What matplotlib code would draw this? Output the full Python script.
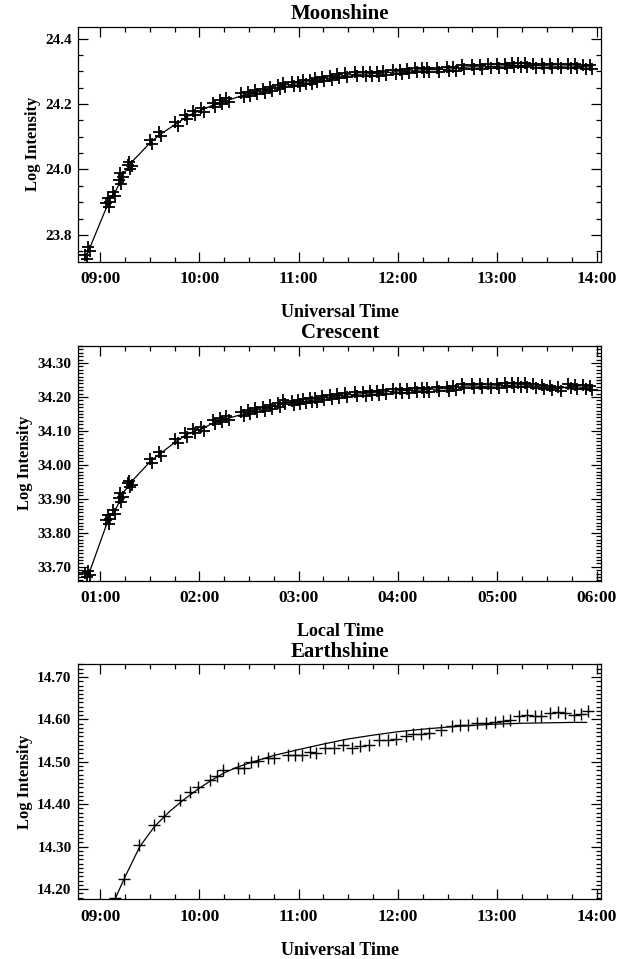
import matplotlib
matplotlib.use("Agg")
import matplotlib.pyplot as plt
import matplotlib.transforms as mtransforms
from matplotlib.ticker import MultipleLocator, FuncFormatter, FormatStrFormatter

plt.rcParams['font.family'] = ['Liberation Serif', 'DejaVu Serif']
plt.rcParams['font.weight'] = 'bold'

# observation times (decimal hours, UT) shared by Moonshine and Crescent
obs_time = [8.857, 8.891, 9.076, 9.09, 9.143, 9.203, 9.215, 9.294, 9.305, 9.512,
            9.606, 9.770, 9.864, 9.949, 10.032, 10.15, 10.216, 10.284, 10.435, 10.502,
            10.569, 10.653, 10.72, 10.805, 10.855, 10.942, 11.002, 11.059, 11.127, 11.177,
            11.244, 11.328, 11.395, 11.479, 11.58, 11.664, 11.731, 11.798, 11.865, 11.966,
            12.033, 12.1, 12.184, 12.251, 12.301, 12.402, 12.503, 12.57, 12.654, 12.754,
            12.839, 12.923, 13.006, 13.09, 13.157, 13.225, 13.292, 13.376, 13.459, 13.543,
            13.627, 13.728, 13.795, 13.879, 13.946]

moon_val = [23.733, 23.756, 23.892, 23.908, 23.925, 23.962, 23.983, 24.006, 24.018, 24.084,
            24.107, 24.140, 24.159, 24.173, 24.183, 24.198, 24.206, 24.211, 24.226, 24.231,
            24.236, 24.241, 24.246, 24.252, 24.258, 24.260, 24.262, 24.267, 24.268, 24.272,
            24.277, 24.279, 24.284, 24.288, 24.291, 24.291, 24.293, 24.293, 24.295, 24.298,
            24.298, 24.300, 24.303, 24.305, 24.305, 24.305, 24.306, 24.308, 24.312, 24.314,
            24.313, 24.315, 24.315, 24.317, 24.318, 24.318, 24.318, 24.317, 24.317, 24.316,
            24.315, 24.317, 24.315, 24.314, 24.313]

cres_val = [33.676, 33.682, 33.833, 33.848, 33.860, 33.897, 33.912, 33.940, 33.947, 34.012,
            34.033, 34.070, 34.088, 34.099, 34.107, 34.125, 34.132, 34.137, 34.149, 34.156,
            34.161, 34.166, 34.171, 34.176, 34.184, 34.183, 34.185, 34.187, 34.190, 34.192,
            34.198, 34.200, 34.203, 34.206, 34.208, 34.210, 34.213, 34.212, 34.215, 34.217,
            34.219, 34.219, 34.220, 34.221, 34.222, 34.224, 34.225, 34.226, 34.232, 34.233,
            34.231, 34.232, 34.233, 34.234, 34.235, 34.236, 34.236, 34.232, 34.229, 34.226,
            34.225, 34.231, 34.230, 34.228, 34.226]

local_offset = 8  # local time = UT - 8 h

earth_time = [9.153, 9.244, 9.388, 9.539, 9.646, 9.807, 9.904, 9.989, 10.106, 10.176,
              10.24, 10.385, 10.445, 10.519, 10.589, 10.687, 10.754, 10.888, 10.962, 11.039,
              11.113, 11.18, 11.264, 11.358, 11.442, 11.54, 11.623, 11.707, 11.808, 11.898,
              11.983, 12.084, 12.15, 12.235, 12.311, 12.436, 12.547, 12.627, 12.704, 12.799,
              12.889, 12.973, 13.056, 13.124, 13.215, 13.298, 13.376, 13.443, 13.534, 13.61,
              13.685, 13.778, 13.846, 13.912]
earth_val = [14.179, 14.224, 14.303, 14.350, 14.373, 14.410, 14.430, 14.441, 14.457, 14.467,
             14.480, 14.485, 14.486, 14.499, 14.503, 14.510, 14.510, 14.516, 14.515, 14.516,
             14.524, 14.521, 14.532, 14.533, 14.539, 14.533, 14.537, 14.540, 14.551, 14.551,
             14.553, 14.561, 14.565, 14.565, 14.567, 14.575, 14.584, 14.586, 14.587, 14.592,
             14.592, 14.594, 14.597, 14.598, 14.608, 14.610, 14.609, 14.609, 14.616, 14.618,
             14.616, 14.610, 14.612, 14.620]

# fitted curve for Earthshine
fit_time = [9.15, 9.25, 9.4, 9.55, 9.7, 9.85, 10.0, 10.125, 10.25, 10.375, 10.5, 10.75,
            11.0, 11.25, 11.5, 11.75, 12.0, 12.25, 12.5, 12.75, 13.0, 13.25, 13.5, 13.75, 13.9]
fit_val = [14.176, 14.228, 14.300, 14.348, 14.383, 14.412, 14.438, 14.457, 14.474, 14.487,
           14.497, 14.515, 14.529, 14.542, 14.554, 14.563, 14.571, 14.577, 14.582, 14.586,
           14.589, 14.591, 14.592, 14.593, 14.593]


def hhmm(x, pos):
    return "%02d:00" % int(round(x))


def style_axes(ax, ymajor, yminor, yfmt):
    ax.xaxis.set_major_locator(MultipleLocator(1))
    ax.xaxis.set_minor_locator(MultipleLocator(0.25))
    ax.xaxis.set_major_formatter(FuncFormatter(hhmm))
    ax.yaxis.set_major_locator(MultipleLocator(ymajor))
    ax.yaxis.set_minor_locator(MultipleLocator(yminor))
    ax.yaxis.set_major_formatter(FormatStrFormatter(yfmt))
    ax.tick_params(which='both', direction='in', top=True, right=True, width=0.9)
    ax.tick_params(which='major', length=7)
    ax.tick_params(which='minor', length=3.5)
    ax.tick_params(axis='x', which='major', labelsize=12.5, pad=7)
    ax.tick_params(axis='y', which='major', labelsize=11, pad=5)
    for lab in ax.get_xticklabels() + ax.get_yticklabels():
        lab.set_fontweight('bold')
    for sp in ax.spines.values():
        sp.set_linewidth(0.9)
    ax.set_ylabel("Log Intensity", fontsize=12, fontweight='bold', labelpad=3)


def repeated_points(ax, x, y):
    # repeated exposures overplot each other, giving the heavy '#' look
    for dx, dy in [(1.2, -2.0), (-1.2, 2.0)]:
        shift = mtransforms.ScaledTranslation(dx / 100, dy / 100, fig.dpi_scale_trans)
        ax.plot(x, y, '+', color='black', ms=8, mew=1.3,
                transform=ax.transData + shift)


fig = plt.figure(figsize=(6.34, 9.59), dpi=100)
left, width, height = 0.1238, 0.8249, 0.2450

ax1 = fig.add_axes([left, 0.7271, width, height])
ax1.plot(obs_time, moon_val, '-', color='black', lw=0.9)
repeated_points(ax1, obs_time, moon_val)
ax1.set_xlim(8.783, 14.05)
ax1.set_ylim(23.718, 24.436)
style_axes(ax1, 0.2, 0.05, '%.1f')
ax1.set_title("Moonshine", fontsize=15, fontweight='bold', pad=5.5)
ax1.set_xlabel("Universal Time", fontsize=13, fontweight='bold', labelpad=12)

ax2 = fig.add_axes([left, 0.3945, width, height])
cres_time = [t - local_offset for t in obs_time]
ax2.plot(cres_time, cres_val, '-', color='black', lw=0.9)
repeated_points(ax2, cres_time, cres_val)
ax2.set_xlim(8.783 - local_offset, 14.05 - local_offset)
ax2.set_ylim(33.659, 34.351)
style_axes(ax2, 0.1, 0.01, '%.2f')
ax2.set_title("Crescent", fontsize=15, fontweight='bold', pad=5.5)
ax2.set_xlabel("Local Time", fontsize=13, fontweight='bold', labelpad=12)

ax3 = fig.add_axes([left, 0.0623, width, height])
ax3.plot(fit_time, fit_val, '-', color='black', lw=0.9)
ax3.plot(earth_time, earth_val, '+', color='black', ms=8, mew=1.0)
ax3.set_xlim(8.783, 14.05)
ax3.set_ylim(14.176, 14.73)
style_axes(ax3, 0.1, 0.01, '%.2f')
ax3.set_title("Earthshine", fontsize=15, fontweight='bold', pad=5.5)
ax3.set_xlabel("Universal Time", fontsize=13, fontweight='bold', labelpad=12)

fig.savefig("out.png", dpi=100)
